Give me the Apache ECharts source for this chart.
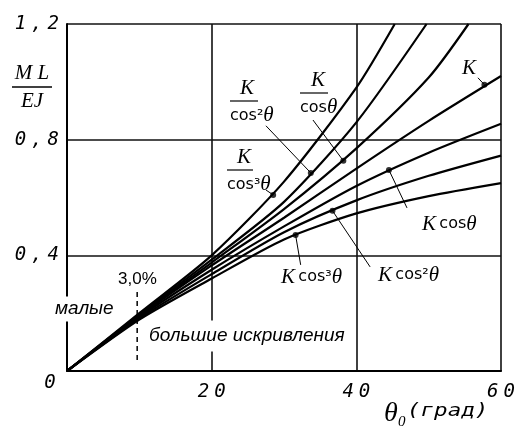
<!DOCTYPE html>
<html>
<head>
<meta charset="utf-8">
<script src="https://cdn.jsdelivr.net/npm/echarts@6/dist/echarts.min.js"></script>
<style>
  html, body { margin: 0; padding: 0; background: #fff; }
  #chart { width: 518px; height: 431px; }
</style>
</head>
<body>
<div id="chart"></div>
<script>
// angles (deg) and ML/EJ values
const theta = [0, 10, 20, 30, 40, 50, 60];
const kCos3 = [0, 0.178, 0.32, 0.455, 0.545, 0.605, 0.65];
const kCos2 = [0, 0.182, 0.335, 0.48, 0.59, 0.675, 0.745];
const kCos1 = [0, 0.186, 0.35, 0.50, 0.64, 0.755, 0.855];
const kBase = [0, 0.19, 0.365, 0.53, 0.70, 0.865, 1.02];

const thetaDivCos = [0, 10, 20, 30, 40, 50, 55.5];
const kDivCos = [0, 0.193, 0.375, 0.56, 0.77, 1.015, 1.2];
const thetaDivCos2 = [0, 10, 20, 30, 40, 49.7];
const kDivCos2 = [0, 0.196, 0.385, 0.585, 0.86, 1.2];
const thetaDivCos3 = [0, 10, 20, 30, 40, 45.3];
const kDivCos3 = [0, 0.2, 0.40, 0.655, 0.98, 1.2];

// marked points on the curves and the leader ends
const dotPoints = [[33.7, 0.685], [38.2, 0.727], [28.5, 0.609], [57.7, 0.99], [44.5, 0.695], [36.7, 0.554], [31.6, 0.47]];
const leaderEnds = [[27.5, 0.848], [34.0, 0.868], [27.5, 0.626], [56.8, 1.014], [47.0, 0.564], [41.9, 0.36], [32.3, 0.367]];
const limitLine = [[9.7, 0.273], [9.7, 0.028]];

const chart = echarts.init(document.getElementById('chart'));

const pair = (xs, ys) => xs.map((x, i) => [x, ys[i]]);

function curve(xs, ys) {
  return {
    type: 'line',
    data: pair(xs, ys),
    smooth: 0.25,
    showSymbol: false,
    lineStyle: { color: '#000', width: 2.2 },
    z: 5
  };
}

const rich = {
  k: { fontFamily: 'Liberation Serif', fontStyle: 'italic', fontSize: 21, fill: '#000' },
  c: { fontFamily: 'DejaVu Sans', fontSize: 16, fill: '#000' }
};

function txt(x, y, text) {
  return {
    type: 'text', x, y, z: 100,
    style: { text, rich, fill: '#000', verticalAlign: 'middle' }
  };
}

function frac(x, top, lineW, numX, den) {
  return [
    { type: 'text', x: numX, y: top, z: 100, style: { text: '{k|K}', rich, align: 'center', verticalAlign: 'top' } },
    { type: 'line', z: 100, shape: { x1: x, y1: top + 23, x2: x + lineW, y2: top + 23 }, style: { stroke: '#000', lineWidth: 1.2 } },
    { type: 'text', x: x, y: top + 27, z: 100, style: { text: den, rich, verticalAlign: 'top' } }
  ];
}

// wide-spaced italic mono tick labels
const spaced = (s) => s.split('').join('{s| }');
const tickLabel = {
  fontFamily: 'DejaVu Sans Mono', fontStyle: 'italic', fontSize: 19, color: '#000',
  rich: { s: { fontFamily: 'DejaVu Sans Mono', fontSize: 19, width: 5 } }
};
const plainFont = 'Liberation Sans';

const option = {
  backgroundColor: '#fff',
  animation: false,
  grid: { left: 67, right: 13, top: 24, bottom: 60 },
  xAxis: {
    type: 'value', min: 0, max: 60, interval: 20,
    axisLine: { lineStyle: { color: '#000', width: 2 } },
    axisTick: { show: false },
    splitLine: { lineStyle: { color: '#111', width: 1.6 } },
    axisLabel: Object.assign({ margin: 12, formatter: v => (v === 0 ? '' : spaced(String(v))) }, tickLabel)
  },
  yAxis: {
    type: 'value', min: 0, max: 1.2, interval: 0.4,
    axisLine: { show: true, lineStyle: { color: '#000', width: 2 } },
    axisTick: { show: false },
    splitLine: { lineStyle: { color: '#111', width: 1.6 } },
    axisLabel: Object.assign({ margin: 8, formatter: v => (v === 0 ? '' : spaced(v.toFixed(1).replace('.', ','))) }, tickLabel)
  },
  series: [
    curve(theta, kCos3),
    curve(theta, kCos2),
    curve(theta, kCos1),
    curve(theta, kBase),
    curve(thetaDivCos, kDivCos),
    curve(thetaDivCos2, kDivCos2),
    curve(thetaDivCos3, kDivCos3),
    ...dotPoints.map((p, i) => ({
      type: 'line', data: [p, leaderEnds[i]], showSymbol: false,
      lineStyle: { color: '#000', width: 1 }, z: 6
    })),
    {
      type: 'line', data: limitLine, showSymbol: false,
      lineStyle: { color: '#000', width: 1.5, type: [5, 4] }, z: 4
    },
    {
      type: 'scatter', data: dotPoints, symbolSize: 6,
      itemStyle: { color: '#000' }, z: 7
    }
  ],
  graphic: [
    // y axis title ML/EJ
    { type: 'text', x: 32, y: 63, z: 100, style: { text: 'M L', font: 'italic 21px "Liberation Serif"', align: 'center', fill: '#000' } },
    { type: 'line', z: 100, shape: { x1: 12, y1: 87, x2: 52, y2: 87 }, style: { stroke: '#000', lineWidth: 1.3 } },
    { type: 'text', x: 32, y: 91, z: 100, style: { text: 'EJ', font: 'italic 21px "Liberation Serif"', align: 'center', fill: '#000' } },
    // origin 0
    { type: 'text', x: 50, y: 383, z: 100, style: { text: '0', font: 'italic 19px "DejaVu Sans Mono"', align: 'center', verticalAlign: 'middle', fill: '#000' } },
    // x axis title
    { type: 'text', x: 384, y: 400, z: 100, style: { text: 'θ', font: 'italic 28px "Liberation Serif"', fill: '#000' } },
    { type: 'text', x: 398, y: 415, z: 100, style: { text: '0', font: 'italic 15px "Liberation Serif"', fill: '#000' } },
    { type: 'text', x: 407, y: 411, z: 100, scaleX: 1.25, style: { text: '(град)', font: 'italic 18px "DejaVu Sans Mono"', verticalAlign: 'middle', fill: '#000' } },
    // curve labels
    ...frac(230, 78, 28, 247, '{c|cos²}{k|θ}'),
    ...frac(300, 70, 28, 318, '{c|cos}{k|θ}'),
    ...frac(227, 147, 26, 244, '{c|cos³}{k|θ}'),
    txt(462, 68, '{k|K}'),
    txt(422, 224, '{k|K} {c|cos}{k|θ}'),
    txt(378, 275, '{k|K} {c|cos²}{k|θ}'),
    txt(281, 277, '{k|K} {c|cos³}{k|θ}'),
    // annotations
    { type: 'text', x: 118, y: 279, z: 100, style: { text: '3,0%', font: '17px "' + plainFont + '"', verticalAlign: 'middle', fill: '#000' } },
    { type: 'text', x: 53, y: 309, z: 100, style: { text: 'малые', font: 'italic 19px "' + plainFont + '"', verticalAlign: 'middle', fill: '#000', backgroundColor: '#fff', padding: [3, 2] } },
    { type: 'text', x: 147, y: 336, z: 100, style: { text: 'большие искривления', font: 'italic 19px "' + plainFont + '"', verticalAlign: 'middle', fill: '#000', backgroundColor: '#fff', padding: [6, 2] } }
  ]
};

chart.setOption(option);
</script>
</body>
</html>
